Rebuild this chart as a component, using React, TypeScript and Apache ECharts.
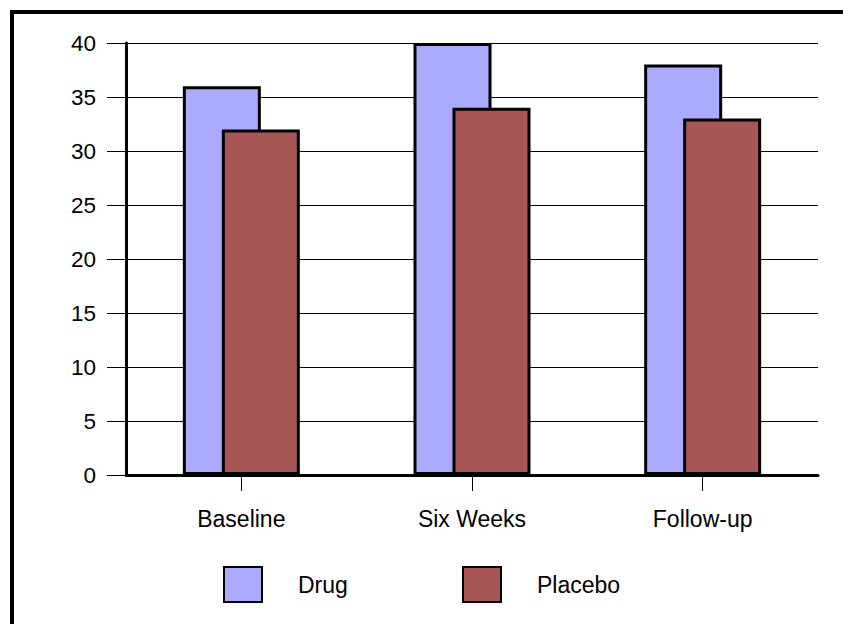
import React, { useEffect, useRef } from "react";
import * as echarts from "echarts";

const categories = ["Baseline", "Six Weeks", "Follow-up"];
const drugValues = [36, 40, 38];
const placeboValues = [32, 34, 33];
const seriesNames = ["Drug", "Placebo"];

export default function App() {
  const ref = useRef<HTMLDivElement>(null);
  useEffect(() => {
    if (!ref.current) return;
    const chart = echarts.init(ref.current, null, { renderer: "svg" });
    const font = "Liberation Sans, Arial, sans-serif";
    const legendBase = {
      top: 566,
      padding: 0,
      icon: "rect",
      itemWidth: 38,
      itemHeight: 35,
      textStyle: { fontSize: 23, color: "#000", fontFamily: font, padding: [0, 0, 0, 31] },
      selectedMode: false,
    };
    chart.setOption({
      animation: false,
      backgroundColor: "#ffffff",
      textStyle: { fontFamily: font },
      grid: { left: 126, right: 35, top: 43, bottom: 149, containLabel: false },
      legend: [
        { ...legendBase, data: [seriesNames[0]], left: 223 },
        { ...legendBase, data: [seriesNames[1]], left: 462 },
      ],
      xAxis: {
        type: "category",
        data: categories,
        axisLine: { show: true, lineStyle: { color: "#000", width: 3 } },
        axisTick: { show: true, alignWithLabel: true, length: 16, lineStyle: { color: "#000", width: 1 } },
        axisLabel: { color: "#000", fontSize: 23, fontFamily: font, margin: 32 },
        splitLine: { show: false },
      },
      yAxis: {
        type: "value",
        min: 0,
        max: 40,
        interval: 5,
        axisLine: { show: true, lineStyle: { color: "#000", width: 3 } },
        axisTick: { show: true, length: 19, lineStyle: { color: "#000", width: 1 } },
        axisLabel: { color: "#000", fontSize: 22.5, fontFamily: font, margin: 30 },
        splitLine: { show: true, lineStyle: { color: "#000", width: 1 } },
      },
      series: [
        {
          name: seriesNames[0],
          type: "bar",
          data: drugValues,
          barWidth: 78,
          barGap: "-50%",
          itemStyle: { color: "#AAAAFF", borderColor: "#000", borderWidth: 3 },
        },
        {
          name: seriesNames[1],
          type: "bar",
          data: placeboValues,
          barWidth: 78,
          barGap: "-50%",
          itemStyle: { color: "#A85555", borderColor: "#000", borderWidth: 3 },
        },
      ],
      graphic: [
        {
          type: "polyline",
          shape: { points: [[12, 624], [12, 12], [843, 12]] },
          style: { stroke: "#000", lineWidth: 4, fill: null },
          silent: true,
        },
      ],
    });
    return () => chart.dispose();
  }, []);
  return (
    <div
      ref={ref}
      style={{ position: "fixed", left: 0, top: 0, width: 853, height: 624 }}
    />
  );
}
